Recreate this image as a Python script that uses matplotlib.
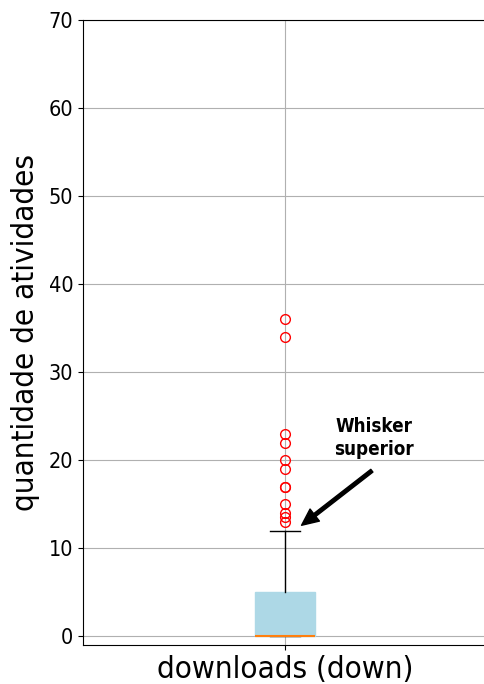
import matplotlib
matplotlib.use("Agg")
import matplotlib.pyplot as plt

# Data
category = "downloads (down)"
q1 = 0
median = 0
q3 = 5
whisker_low = 0
whisker_high = 12
outliers = [13, 13.5, 14, 15, 17, 17, 19, 20, 22, 23, 34, 36]
yticks = [0, 10, 20, 30, 40, 50, 60, 70]

plt.rcParams["font.family"] = ["DejaVu Sans"]
plt.rcParams["font.stretch"] = "condensed"

fig = plt.figure(figsize=(4.84, 6.84), dpi=100)
ax = fig.add_axes([83 / 484, 1 - 645 / 684, 404 / 484, 625 / 684])

stats = [dict(med=median, q1=q1, q3=q3, whislo=whisker_low, whishi=whisker_high,
              fliers=outliers, label=category)]
ax.bxp(stats, positions=[1], widths=0.15, patch_artist=True,
       boxprops=dict(facecolor="lightblue", edgecolor="lightblue"),
       medianprops=dict(color="#ff7f0e", linewidth=1.5),
       whiskerprops=dict(color="black"),
       capprops=dict(color="black"),
       flierprops=dict(marker="o", markerfacecolor="none", markeredgecolor="red",
                       markersize=7))

ax.set_xlim(0.5, 1.5)
ax.set_ylim(-1, 70)
ax.set_yticks(yticks)
ax.grid(True, color="#b0b0b0", linewidth=0.8)
ax.set_axisbelow(True)
ax.tick_params(axis="y", labelsize=15.5)
ax.tick_params(axis="x", labelsize=22.5)
ax.set_ylabel("quantidade de atividades", fontsize=22.5, labelpad=6)

ax.text(1.22, 22.5, "Whisker\nsuperior", ha="center", va="center",
        fontsize=13.5, fontweight="bold", linespacing=1.25)
ax.annotate("", xy=(1.041, 12.6), xytext=(1.215, 18.8),
            arrowprops=dict(facecolor="black", width=2.5, headwidth=11,
                            headlength=12, shrink=0))

fig.savefig("out.png", dpi=100)
